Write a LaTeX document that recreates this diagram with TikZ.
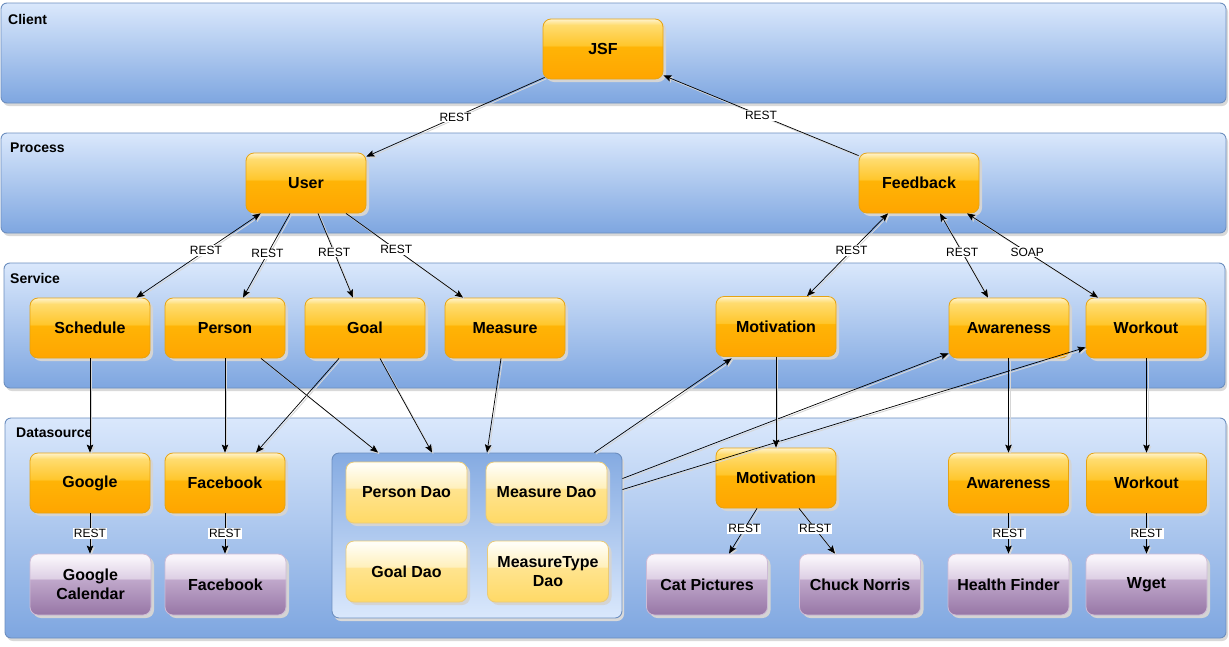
\documentclass[tikz,border=0pt]{standalone}
\usepackage{fontspec}
\setmainfont{Liberation Sans}
\usetikzlibrary{arrows.meta,shadows,calc}

\definecolor{oBot}{HTML}{FFA500}
\definecolor{oMid}{HTML}{FFB406}
\definecolor{oHi1}{HTML}{FFC62C}
\definecolor{oHi2}{HTML}{FFDC70}
\definecolor{oTop}{HTML}{FFF3CC}
\definecolor{oLine}{HTML}{E6A312}
\definecolor{pBot}{HTML}{9776A6}
\definecolor{pMid}{HTML}{C0A8CB}
\definecolor{pHi1}{HTML}{DDCFE4}
\definecolor{pTop}{HTML}{F8F4FA}
\definecolor{pLine}{HTML}{CDBBD6}
\definecolor{yBot}{HTML}{FFD966}
\definecolor{yMid}{HTML}{FFE48F}
\definecolor{yHi}{HTML}{FFF0BC}
\definecolor{yTop}{HTML}{FFFEF6}
\definecolor{yLine}{HTML}{EACB78}
\definecolor{laneTop}{HTML}{DAE8FC}
\definecolor{laneBot}{HTML}{7EA6E0}
\definecolor{laneLine}{HTML}{6C8EBF}

\pgfdeclareverticalshading{orangegloss}{100bp}{color(0bp)=(oBot); color(25bp)=(oBot); color(52bp)=(oMid); color(53bp)=(oHi1); color(70bp)=(oHi2); color(75bp)=(oTop); color(100bp)=(oTop)}
\pgfdeclareverticalshading{purplegloss}{100bp}{color(0bp)=(pBot); color(25bp)=(pBot); color(54bp)=(pMid); color(55bp)=(pHi1); color(72bp)=(pTop); color(75bp)=(pTop); color(100bp)=(pTop)}
\pgfdeclareverticalshading{yellowgloss}{100bp}{color(0bp)=(yBot); color(25bp)=(yBot); color(53bp)=(yMid); color(54bp)=(yHi); color(73bp)=(yTop); color(75bp)=(yTop); color(100bp)=(yTop)}

\tikzset{
  box/.style={rounded corners=8pt, minimum width=120pt, minimum height=60pt,
    inner sep=2pt, align=center, text=black,
    font=\bfseries\fontsize{16}{19.5}\selectfont,
    drop shadow={shadow xshift=3pt, shadow yshift=-3pt, fill=black!17, opacity=1}},
  orangebox/.style={box, shade, shading=orangegloss, draw=oLine, line width=0.8pt},
  purplebox/.style={box, minimum width=121pt, minimum height=61pt, shade, shading=purplegloss, draw=pLine, line width=0.8pt},
  yellowbox/.style={box, minimum width=121pt, minimum height=61pt, shade, shading=yellowgloss, draw=yLine, line width=0.8pt},
  lane/.style={rounded corners=6pt, draw=laneLine, line width=0.9pt,
    top color=laneTop, bottom color=laneBot, inner sep=0pt,
    drop shadow={shadow xshift=2pt, shadow yshift=-3pt, fill=black!15, opacity=1}},
  container/.style={rounded corners=7pt, draw=laneLine, line width=0.9pt,
    top color=laneBot!95!white, bottom color=laneTop, inner sep=0pt,
    minimum width=290pt, minimum height=165pt,
    drop shadow={shadow xshift=2pt, shadow yshift=-3pt, fill=black!15, opacity=1}},
  lanelabel/.style={anchor=west, inner sep=0pt, text=black, font=\bfseries\fontsize{14}{16}\selectfont},
  lab/.style={fill=white, inner sep=1pt, text=black, font=\fontsize{12}{13.5}\selectfont},
  conn/.style={draw=black, line width=0.7pt,
    -{Stealth[length=8pt,width=6.5pt,inset=1.5pt]},
    preaction={draw=black!16, line width=0.9pt, transform canvas={xshift=1.5pt,yshift=-1.5pt}}},
  conntwo/.style={draw=black, line width=0.7pt,
    {Stealth[length=8pt,width=6.5pt,inset=1.5pt]}-{Stealth[length=8pt,width=6.5pt,inset=1.5pt]},
    preaction={draw=black!16, line width=0.9pt, transform canvas={xshift=1.5pt,yshift=-1.5pt}}}
}

\begin{document}
\begin{tikzpicture}[x=1pt,y=-1pt]
\useasboundingbox (0,0) rectangle (1229,646);

% lanes
\node[lane, minimum width=1225pt, minimum height=100pt] (client) at (613.5,53) {};
\node[lane, minimum width=1225pt, minimum height=100pt] (process) at (613.5,183) {};
\node[lane, minimum width=1221pt, minimum height=125pt] (service) at (614.5,325.5) {};
\node[lane, minimum width=1221pt, minimum height=220pt] (datasource) at (615.5,528) {};

\node[lanelabel] (clientlab) at (8,19) {Client};
\node[lanelabel] (processlab) at (10,148) {Process};
\node[lanelabel] (servicelab) at (10,278) {Service};
\node[lanelabel] (dslab) at (16,433) {Datasource};

% client / process
\node[orangebox] (jsf) at (603,49) {JSF};
\node[orangebox] (user) at (306,183) {User};
\node[orangebox] (feedback) at (919,183) {Feedback};

% service
\node[orangebox] (sched) at (90,328) {Schedule};
\node[orangebox] (person) at (225,328) {Person};
\node[orangebox] (goal) at (365,328) {Goal};
\node[orangebox] (measure) at (505,328) {Measure};
\node[orangebox] (motiv) at (776,326.5) {Motivation};
\node[orangebox] (aware) at (1009,328) {Awareness};
\node[orangebox] (workout) at (1146,328) {Workout};

% datasource
\node[orangebox] (google) at (90,483) {Google};
\node[orangebox] (fbk) at (225,483) {Facebook};
\node[container] (dao) at (477,535.5) {};
\node[yellowbox] (pdao) at (406.5,492.5) {Person Dao};
\node[yellowbox] (mdao) at (546.5,492.5) {Measure Dao};
\node[yellowbox] (gdao) at (406.5,571.5) {Goal Dao};
\node[yellowbox] (mtdao) at (548,571.5) {MeasureType\\Dao};
\node[orangebox] (motivds) at (776,478) {Motivation};
\node[orangebox] (awareds) at (1008.5,483) {Awareness};
\node[orangebox] (workoutds) at (1146.5,483) {Workout};

\node[purplebox] (gcal) at (90.5,584.5) {Google\\Calendar};
\node[purplebox] (fbkp) at (225.5,584.5) {Facebook};
\node[purplebox] (cat) at (707,584.5) {Cat Pictures};
\node[purplebox] (chuck) at (860,584.5) {Chuck Norris};
\node[purplebox] (health) at (1008.5,584.5) {Health Finder};
\node[purplebox] (wget) at (1146.5,584.5) {Wget};

% client - process
\draw[conn] ([shift={(2pt,2pt)}]jsf.south west) -- node[lab]{REST} ([yshift=-4pt]user.north east);
\draw[conn] ([yshift=-3pt]feedback.north west) -- node[lab]{REST} ([yshift=4pt]jsf.south east);

% process - service
\draw[conntwo] ([xshift=15pt]user.south west) -- node[lab,pos=0.44]{REST} ([xshift=-14pt]sched.north east);
\draw[conn] ([xshift=-16pt]user.south) -- node[lab,pos=0.48]{REST} ([xshift=18pt]person.north);
\draw[conn] ([xshift=12pt]user.south) -- node[lab,pos=0.46]{REST} ([xshift=-12pt]goal.north);
\draw[conn] ([xshift=40pt]user.south) -- node[lab,pos=0.43]{REST} ([xshift=-42pt]measure.north);
\draw[conntwo] ([xshift=-31pt]feedback.south) -- node[lab,pos=0.45]{REST} ([xshift=31pt]motiv.north);
\draw[conntwo] ([xshift=21pt]feedback.south) -- node[lab,pos=0.46]{REST} ([xshift=-21pt]aware.north);
\draw[conntwo] ([xshift=48pt]feedback.south) -- node[lab,pos=0.46]{SOAP} ([xshift=-48pt]workout.north);

% service - datasource
\draw[conn] (sched.south) -- (google.north);
\draw[conn] (person.south) -- (fbk.north);
\draw[conn] ([xshift=-26pt]goal.south) -- ([xshift=31pt]fbk.north);
\draw[conn] ([xshift=36pt]person.south) -- ([xshift=-99pt]dao.north);
\draw[conn] ([xshift=15pt]goal.south) -- ([xshift=-45pt]dao.north);
\draw[conn] ([xshift=-4pt]measure.south) -- ([xshift=10pt]dao.north);
\draw[conn] ([xshift=-28pt]dao.north east) -- ([shift={(16pt,-1.5pt)}]motiv.south west);
\draw[conn] ([yshift=-26pt]dao.north east) -- ([yshift=5pt]aware.south west);
\draw[conn] ([yshift=-37pt]dao.north east) -- ([yshift=11pt]workout.south west);
\draw[conn] (motiv.south) -- (motivds.north);
\draw[conn] ([xshift=-0.5pt]aware.south) -- (awareds.north);
\draw[conn] ([xshift=0.5pt]workout.south) -- (workoutds.north);

% datasource internal
\draw[conn] (google.south) -- node[lab]{REST} ([xshift=-0.5pt]gcal.north);
\draw[conn] (fbk.south) -- node[lab]{REST} ([xshift=-0.5pt]fbkp.north);
\draw[conn] ([xshift=-19pt]motivds.south) -- node[lab,pos=0.45]{REST} ([xshift=22pt]cat.north);
\draw[conn] ([xshift=23pt]motivds.south) -- node[lab,pos=0.45]{REST} ([xshift=-25pt]chuck.north);
\draw[conn] (awareds.south) -- node[lab]{REST} (health.north);
\draw[conn] (workoutds.south) -- node[lab]{REST} (wget.north);
\end{tikzpicture}
\end{document}
